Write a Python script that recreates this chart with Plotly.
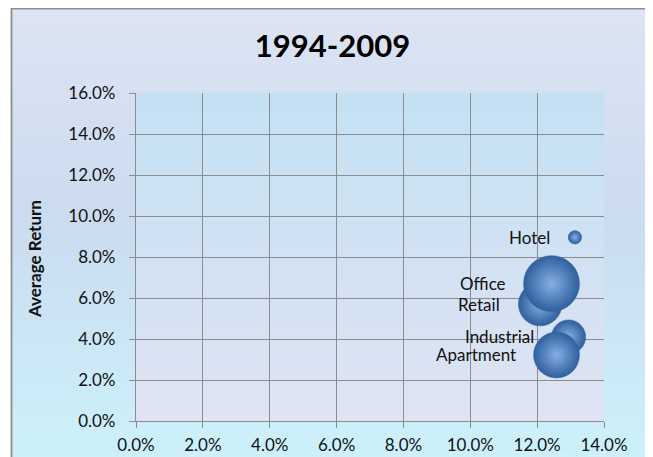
import plotly.graph_objects as go

# ---- data ----
sectors = ["Industrial", "Apartment", "Retail", "Office", "Hotel"]
std_dev = [12.94, 12.58, 12.09, 12.43, 13.13]       # x, %
avg_return = [4.10, 3.22, 5.70, 6.70, 8.96]         # y, %
bubble_size = [37, 67, 60, 100, 5.7]                # relative size
x_ticks = [0, 2, 4, 6, 8, 10, 12, 14]
y_ticks = [0, 2, 4, 6, 8, 10, 12, 14, 16]
title_text = "1994-2009"
y_title = "Average Return"

# page has an 8px body margin; work in page pixels and convert
OFF = 8
PAGE_W, PAGE_H = 653, 457
W, H = PAGE_W - OFF, PAGE_H - OFF
PL, PR, PT, PB = 136, 604, 93, 421          # plot area in page px
L, R, T, B = PL - OFF, PAGE_W - PR, PT - OFF, PAGE_H - PB
pw, ph = PR - PL, PB - PT

max_diam = 56
sizeref = 2.0 * max(bubble_size) / (max_diam ** 2)

FONT = "Lato"

fig = go.Figure()
fig.add_trace(go.Scatter(
    x=[v / 100 for v in std_dev],
    y=[v / 100 for v in avg_return],
    mode="markers",
    marker=dict(
        size=bubble_size, sizemode="area", sizeref=sizeref,
        color="#2f5f9e",
        gradient=dict(type="radial", color="#86aee3"),
        line=dict(width=0.6, color="#3a689f"),
        opacity=1,
    ),
    hoverinfo="skip",
    showlegend=False,
))

# data labels to the left of each bubble
for name, xv, yv, s in zip(sectors, std_dev, avg_return, bubble_size):
    r = (s / 2 / sizeref) ** 0.5
    fig.add_annotation(
        x=xv / 100, y=yv / 100, text=name, showarrow=False,
        xanchor="right", yanchor="middle", xshift=-(r + 16),
        font=dict(family=FONT, size=17, color="#111111"),
    )

# ---- background gradients (chart area and plot area) ----
def px2x(p):
    return (p - PL) / pw

def py2y(p):
    return (PB - p) / ph

def lerp(c1, c2, t):
    return tuple(round(a + (b - a) * t) for a, b in zip(c1, c2))

def multi(stops, t):
    for (t0, c0), (t1, c1) in zip(stops, stops[1:]):
        if t <= t1:
            return lerp(c0, c1, (t - t0) / (t1 - t0) if t1 > t0 else 0)
    return stops[-1][1]

shapes = []
top, bottom = 8.6, 470
n = 80
chart_stops = [(0, (221, 228, 243)), (0.45, (203, 219, 240)), (1, (204, 242, 251))]
for i in range(n):
    y0p = top + (bottom - top) * i / n
    y1p = top + (bottom - top) * (i + 1) / n + 0.8
    c = multi(chart_stops, (i + 0.5) / n)
    shapes.append(dict(type="rect", xref="paper", yref="paper",
                       x0=px2x(11.5), x1=px2x(700), y0=py2y(y1p), y1=py2y(y0p),
                       line=dict(width=0), fillcolor="rgb(%d,%d,%d)" % c, layer="below"))
shapes.append(dict(type="rect", xref="paper", yref="paper",
                   x0=px2x(11.5), x1=px2x(700), y0=py2y(500), y1=py2y(8.6),
                   line=dict(width=1.8, color="#8c8c8c"), fillcolor="rgba(0,0,0,0)", layer="below"))
plot_stops = [(0, (195, 225, 243)), (1, (223, 227, 243))]
n2 = 60
for i in range(n2):
    y0 = 1 - i / n2
    y1 = 1 - (i + 1) / n2 - 0.003
    c = multi(plot_stops, (i + 0.5) / n2)
    shapes.append(dict(type="rect", xref="paper", yref="paper",
                       x0=0, x1=1, y0=max(y1, 0), y1=y0,
                       line=dict(width=0), fillcolor="rgb(%d,%d,%d)" % c, layer="below"))

axis_common = dict(
    showgrid=True, gridcolor="#8c8c8c", gridwidth=1.2,
    showline=True, linecolor="#8c8c8c", linewidth=1.2,
    ticks="outside", ticklen=6, tickcolor="#8c8c8c", tickwidth=1.2,
    zeroline=False, fixedrange=True, automargin=False,
    tickfont=dict(family=FONT, size=17, color="#111111"),
    tickformat=".1%",
)

fig.update_layout(
    width=W, height=H,
    margin=dict(l=L, r=R, t=T, b=B, autoexpand=False),
    paper_bgcolor="white",
    plot_bgcolor="rgba(0,0,0,0)",
    shapes=shapes,
    title=dict(text="<b>%s</b>" % title_text, x=(332.5 - OFF) / W, xanchor="center",
               y=1 - (46.5 - OFF) / H, yanchor="middle",
               font=dict(family=FONT, size=31, color="black")),
    xaxis=dict(range=[0, 0.14], tickvals=[v / 100 for v in x_ticks],
               ticklabelstandoff=2, **axis_common),
    yaxis=dict(range=[0, 0.16], tickvals=[v / 100 for v in y_ticks],
               ticklabelstandoff=10, **axis_common),
)

fig.add_annotation(
    xref="paper", yref="paper", x=px2x(34), y=py2y(259),
    text="<b>%s</b>" % y_title, textangle=-90, showarrow=False,
    xanchor="center", yanchor="middle",
    font=dict(family=FONT, size=17, color="#111111"),
)

fig.write_html("out.html")
